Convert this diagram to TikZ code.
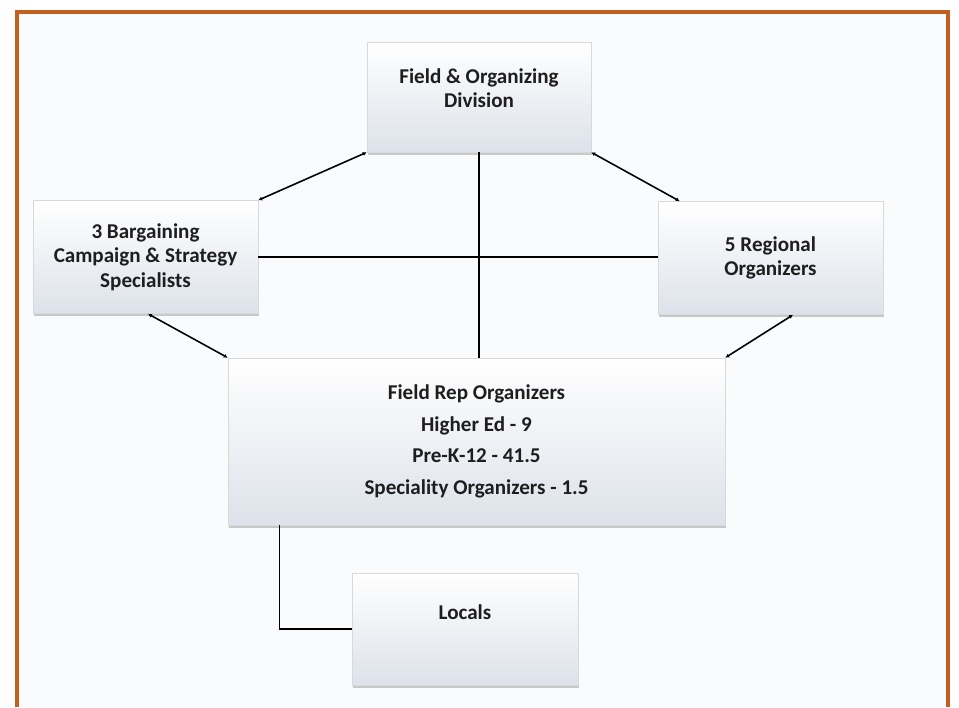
\documentclass[tikz,border=0pt]{standalone}
\usepackage{fontspec}
\setmainfont{Carlito}
\usetikzlibrary{positioning, arrows.meta, calc, shadows}
\definecolor{framerust}{HTML}{C2601F}
\definecolor{pagetint}{HTML}{F9FBFD}
\definecolor{boxshade}{HTML}{DDE2EA}
\definecolor{inkdark}{HTML}{1E1E1E}

\begin{document}
\begin{tikzpicture}[
    x=0.02cm, y=-0.02cm,
    unit/.style={draw=gray!30, top color=white, bottom color=boxshade, thin,
                 minimum width=4.5cm, minimum height=2.24cm, align=center,
                 font=\fontsize{12}{14}\selectfont\bfseries, text=inkdark,
                 drop shadow={shadow xshift=0.6pt, shadow yshift=-1.6pt, fill=gray!70, opacity=0.6}},
    link/.style={line width=0.9pt, black},
    tip/.style={link, {Latex[length=2.2pt, width=2.4pt]}-{Latex[length=2.2pt, width=2.4pt]}},
  ]

  % ── Page and frame ──
  \useasboundingbox (0,0) rectangle (959,707);
  \fill[pagetint] (17,12) rectangle (948,707);
  \draw[framerust, line width=2.4pt] (17,707) -- (17,12) -- (948,12) -- (948,707);

  % ── Boxes ──
  \node[unit, minimum width=4.48cm, minimum height=2.2cm, text depth=0.35cm] (div) at (479,97) {Field \& Organizing\\Division};
  \node[unit, minimum height=2.26cm] (spec) at (145.5,257) {3 Bargaining\\Campaign \& Strategy\\Specialists};
  \node[unit, minimum height=2.26cm, text depth=0.08cm] (reg) at (770.5,258) {5 Regional\\Organizers};
  \node[unit, minimum width=9.94cm, minimum height=3.34cm,
        font=\fontsize{12}{18}\selectfont\bfseries] (reps) at (476.5,441.5)
    {Field Rep Organizers\\Higher Ed - 9\\Pre-K-12 - 41.5\\Speciality Organizers - 1.5};
  \node[unit, minimum width=4.52cm, text depth=0.68cm] (locals) at (465,629) {Locals};

  % ── Connectors ──
  % Division ↔ Specialists / Regional
  \draw[tip] (div.south west) -- (spec.north east);
  \draw[tip] (div.south east) -- ([xshift=0.44cm]reg.north west);

  % Division → Field reps
  \draw[link] (div.south) -- (div.south |- reps.north);

  % Specialists — Regional
  \draw[link] (spec.east) -- (spec.east -| reg.west);

  % Specialists / Regional ↔ Field reps
  \draw[tip] ([xshift=0.05cm]spec.south) -- (reps.north west);
  \draw[tip] ([xshift=0.45cm]reg.south) -- (reps.north east);

  % Field reps → Locals
  \draw[link] ([xshift=1.04cm]reps.south west) |- (locals.west);

\end{tikzpicture}
\end{document}
